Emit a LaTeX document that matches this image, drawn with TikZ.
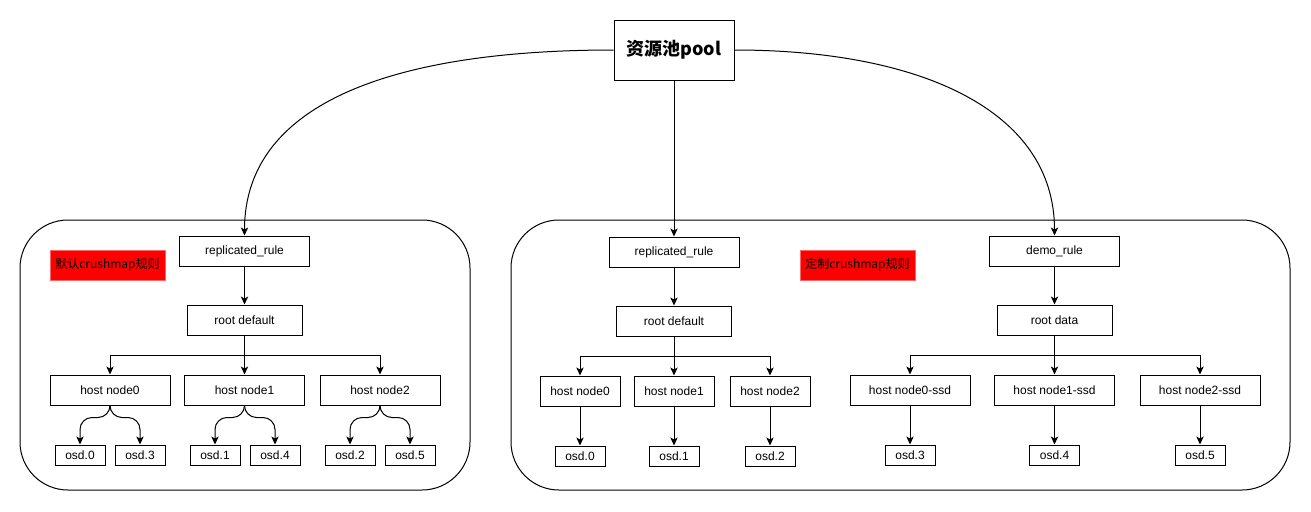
\documentclass[tikz,border=0pt]{standalone}
\usepackage{fontspec}
\setmainfont{Liberation Sans}
\newfontfamily\cjk{Noto Sans CJK SC}
\usepackage{xcolor}
\usepackage{tikz}
\usetikzlibrary{arrows.meta}
\definecolor{tagRed}{HTML}{FF0000}
\definecolor{tagEdge}{HTML}{FF6666}

\begin{document}
\begin{tikzpicture}[
    x=0.75pt,y=-0.75pt,
    box/.style={draw,line width=0.75pt,minimum height=22.5pt,inner sep=0pt,
                font=\fontsize{9}{11}\selectfont},
    osdbox/.style={box,minimum width=37.5pt,minimum height=15pt},
    tag/.style={box,fill=tagRed,draw=tagEdge,minimum width=86.25pt,
                font=\cjk\fontsize{9}{11}\selectfont},
    frame/.style={line width=0.75pt,rounded corners=36pt},
    link/.style={line width=0.75pt,-{Stealth[length=6pt,width=5.5pt,inset=1.5pt]}},
    split/.style={link,rounded corners=9pt}
]
    \useasboundingbox (0,0) rectangle (1311,511);

    % The two rule groups.
    \draw[frame] (20,220) rectangle (470,490);
    \draw[frame] (511,220) rectangle (1290,490);

    \node[box,minimum width=90pt,minimum height=45pt,
          font=\cjk\bfseries\fontsize{13.5}{16}\selectfont] (pool) at (674,50) {资源池pool};

    % Default crushmap: one root, three hosts, two osds per host.
    \node[box,minimum width=97.5pt] (lRule) at (244.5,251) {replicated\_rule};
    \node[tag] (lTag) at (107.5,265) {默认crushmap规则};
    \node[box,minimum width=86.25pt] (lRoot) at (244.5,320) {root default};
    \node[box,minimum width=90pt] (lHost0) at (110,390) {host node0};
    \node[box,minimum width=90pt] (lHost1) at (244.5,390) {host node1};
    \node[box,minimum width=90pt] (lHost2) at (380,390) {host node2};
    \node[osdbox] (lOsd0) at (80,455) {osd.0};
    \node[osdbox] (lOsd3) at (140,455) {osd.3};
    \node[osdbox] (lOsd1) at (215,455) {osd.1};
    \node[osdbox] (lOsd4) at (275,455) {osd.4};
    \node[osdbox] (lOsd2) at (350,455) {osd.2};
    \node[osdbox] (lOsd5) at (410,455) {osd.5};

    % Custom crushmap, default part.
    \node[box,minimum width=97.5pt] (mRule) at (674,252) {replicated\_rule};
    \node[tag] (mTag) at (857.5,265) {定制crushmap规则};
    \node[box,minimum width=86.25pt] (mRoot) at (674,321) {root default};
    \node[box,minimum width=60pt] (mHost0) at (580,391) {host node0};
    \node[box,minimum width=60pt] (mHost1) at (674,391) {host node1};
    \node[box,minimum width=60pt] (mHost2) at (770,391) {host node2};
    \node[osdbox] (mOsd0) at (580,456) {osd.0};
    \node[osdbox] (mOsd1) at (674,456) {osd.1};
    \node[osdbox] (mOsd2) at (770,456) {osd.2};

    % Custom crushmap, ssd part.
    \node[box,minimum width=97.5pt] (rRule) at (1054.5,251) {demo\_rule};
    \node[box,minimum width=86.25pt] (rRoot) at (1054.5,320) {root data};
    \node[box,minimum width=90pt] (rHost0) at (910,390) {host node0-ssd};
    \node[box,minimum width=90pt] (rHost1) at (1054.5,390) {host node1-ssd};
    \node[box,minimum width=90pt] (rHost2) at (1200,390) {host node2-ssd};
    \node[osdbox] (rOsd3) at (910,455) {osd.3};
    \node[osdbox] (rOsd4) at (1054.5,455) {osd.4};
    \node[osdbox] (rOsd5) at (1200,455) {osd.5};

    % The pool picks one of its rules.
    \draw[link] (pool.west) .. controls (400,50) and (244.5,100) .. (lRule.north);
    \draw[link] (pool.south) -- (mRule.north);
    \draw[link] (pool.east) .. controls (920,50) and (1054.5,110) .. (rRule.north);

    \foreach \g in {l,m,r} {
        \draw[link] (\g Rule) -- (\g Root);
        \draw[link] (\g Root.south) -- ++(0,20) -| (\g Host0.north);
        \draw[link] (\g Root) -- (\g Host1);
        \draw[link] (\g Root.south) -- ++(0,20) -| (\g Host2.north);
    }

    \draw[split] (lHost0.south) -- ++(0,12) -| (lOsd0.north);
    \draw[split] (lHost0.south) -- ++(0,12) -| (lOsd3.north);
    \draw[split] (lHost1.south) -- ++(0,12) -| (lOsd1.north);
    \draw[split] (lHost1.south) -- ++(0,12) -| (lOsd4.north);
    \draw[split] (lHost2.south) -- ++(0,12) -| (lOsd2.north);
    \draw[split] (lHost2.south) -- ++(0,12) -| (lOsd5.north);

    \draw[link] (mHost0) -- (mOsd0);
    \draw[link] (mHost1) -- (mOsd1);
    \draw[link] (mHost2) -- (mOsd2);
    \draw[link] (rHost0) -- (rOsd3);
    \draw[link] (rHost1) -- (rOsd4);
    \draw[link] (rHost2) -- (rOsd5);
\end{tikzpicture}
\end{document}
